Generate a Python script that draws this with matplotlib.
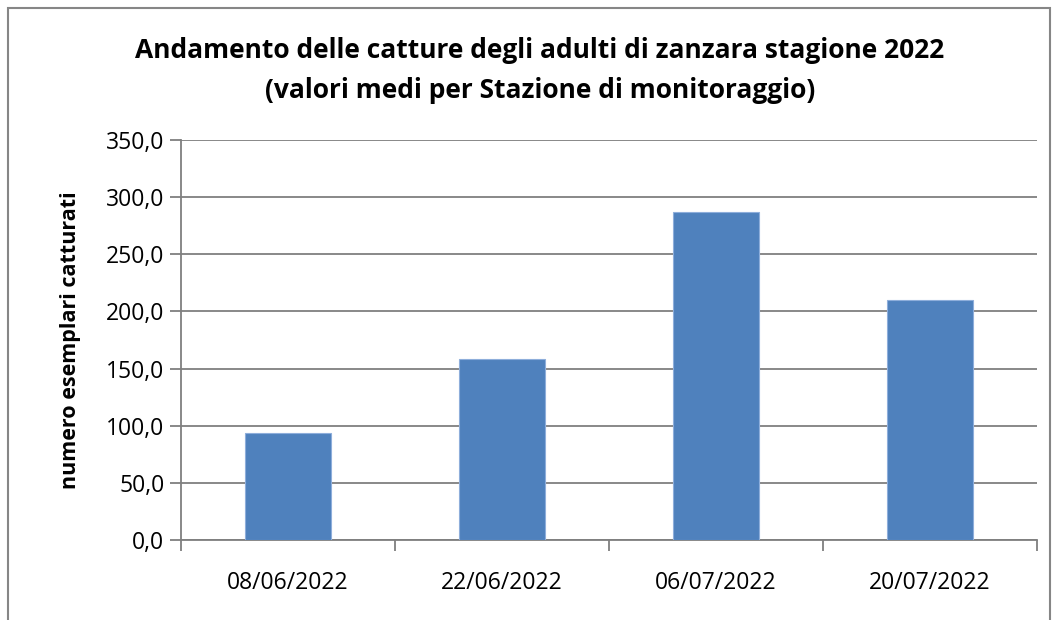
import matplotlib.pyplot as plt
from matplotlib.patches import Rectangle
from matplotlib.ticker import FuncFormatter

plt.rcParams['font.family'] = ['Liberation Sans Narrow', 'Open Sans', 'DejaVu Sans']

dates = ['08/06/2022', '22/06/2022', '06/07/2022', '20/07/2022']
catture = [93.6, 158.6, 286.9, 209.9]
y_ticks = [0, 50, 100, 150, 200, 250, 300, 350]

W, H = 1054, 620
fig = plt.figure(figsize=(W / 100, H / 100), dpi=100)
ax = fig.add_axes([181 / W, 1 - 540 / H, (1037 - 181) / W, 400 / H])

# outer chart frame
fig.patches.append(Rectangle((8 / W, -0.05), (1050 - 8) / W, 1.05 - 8 / H,
                             transform=fig.transFigure, fill=False,
                             edgecolor='#868686', linewidth=1.5))

x = range(len(dates))
ax.bar(x, catture, width=0.4, color='#4F81BD', edgecolor='#8EAEDB',
       linewidth=0.8, zorder=3)

ax.set_xlim(-0.5, len(dates) - 0.5)
ax.set_ylim(0, 350)
ax.set_yticks(y_ticks)
ax.yaxis.set_major_formatter(FuncFormatter(lambda v, p: f'{v:.1f}'.replace('.', ',')))
ax.set_xticks(list(x))
ax.set_xticklabels(dates)
ax.set_xticks([i - 0.5 for i in range(len(dates) + 1)], minor=True)

ax.grid(axis='y', color='#7f7f7f', linewidth=1.3, zorder=0)
for s in ['top', 'right']:
    ax.spines[s].set_visible(False)
for s in ['left', 'bottom']:
    ax.spines[s].set_color('#7f7f7f')
    ax.spines[s].set_linewidth(1.3)

ax.tick_params(axis='y', length=8, width=1.3, color='#7f7f7f', labelsize=16.5, pad=4)
ax.tick_params(axis='x', which='major', length=0, labelsize=16.5, pad=22)
ax.tick_params(axis='x', which='minor', length=8, width=1.3, color='#7f7f7f')

ax.set_ylabel('numero esemplari catturati', fontsize=15.5, fontweight='bold', labelpad=18)

fig.text(540 / W, 1 - 51 / H,
         'Andamento delle catture degli adulti di zanzara stagione 2022',
         ha='center', va='center', fontsize=19, fontweight='bold')
fig.text(540 / W, 1 - 91 / H,
         '(valori medi per Stazione di monitoraggio)',
         ha='center', va='center', fontsize=19, fontweight='bold')

fig.savefig('out.png', dpi=100)
